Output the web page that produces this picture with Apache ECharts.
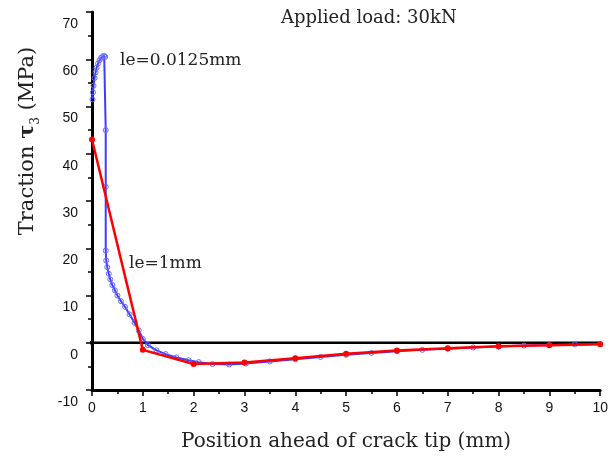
<!DOCTYPE html>
<html>
<head>
<meta charset="utf-8">
<script src="https://cdn.jsdelivr.net/npm/echarts@6/dist/echarts.min.js"></script>
<style>
  html, body { margin: 0; padding: 0; background: #fff; }
  #chart { width: 611px; height: 459px; }
</style>
</head>
<body>
<div id="chart"></div>
<script>
// le = 1mm : cohesive traction at element nodes
var redX = [0, 1, 2, 3, 4, 5, 6, 7, 8, 9, 10];
var redY = [43.0, -1.5, -4.5, -4.2, -3.3, -2.35, -1.65, -1.15, -0.75, -0.55, -0.3];

// le = 0.0125mm
var blueX = [0.01, 0.02, 0.03, 0.05, 0.07, 0.09, 0.12, 0.15, 0.18, 0.21, 0.24, 0.26,
             0.27, 0.27, 0.27, 0.28, 0.30, 0.33, 0.36, 0.40, 0.45, 0.50, 0.57, 0.65,
             0.74, 0.84, 0.92, 1.0, 1.1, 1.27, 1.45, 1.66, 1.9, 2.1, 2.37, 2.7,
             3.03, 3.5, 4.0, 4.5, 5.0, 5.5, 6.0, 6.5, 7.0, 7.5, 8.0, 8.5, 9.0, 9.5, 10];
var blueY = [51.5, 53.0, 54.4, 56.0, 57.2, 58.2, 59.1, 59.8, 60.3, 60.6, 60.7, 60.5,
             45.0, 33.0, 19.5, 17.4, 16.0, 14.6, 13.4, 12.2, 11.1, 10.0, 8.8, 7.6,
             6.0, 4.2, 2.6, 0.8, -0.5, -1.6, -2.4, -3.1, -3.7, -4.1, -4.5, -4.6,
             -4.4, -3.95, -3.5, -3.0, -2.55, -2.15, -1.8, -1.5, -1.25, -1.0, -0.8, -0.6, -0.5, -0.35, -0.25];

// crack-tip wedge drawn to the left of the origin
var wedgeX = [-1.74, 0, -1.74];
var wedgeY = [7.0, 0, -3.8];

var xTicks = { min: 0, max: 10, interval: 1 };
var yTicks = { min: -10, max: 70, interval: 10 };

function pairs(xs, ys) {
    var out = [];
    for (var i = 0; i < xs.length; i++) out.push([xs[i], ys[i]]);
    return out;
}

var serif = '"DejaVu Serif", "Liberation Serif", serif';
var myChart = echarts.init(document.getElementById('chart'));

var option = {
    animation: false,
    backgroundColor: '#fff',
    grid: { left: 92, right: 8, top: 12, bottom: 69, containLabel: false },
    title: {
        text: 'Applied load: 30kN',
        left: 276,
        top: 4,
        textStyle: { fontFamily: serif, fontSize: 18, fontWeight: 'normal', color: '#222' }
    },
    xAxis: {
        type: 'value',
        min: xTicks.min, max: xTicks.max, interval: xTicks.interval,
        name: 'Position ahead of crack tip (mm)',
        nameLocation: 'middle',
        nameGap: 42,
        nameTextStyle: { fontFamily: serif, fontSize: 20, color: '#222' },
        axisLine: { onZero: false, lineStyle: { color: '#000', width: 3 } },
        axisTick: { length: 6, lineStyle: { color: '#000', width: 1.5 } },
        minorTick: { show: true, splitNumber: 2, length: 4, lineStyle: { color: '#000', width: 1.5 } },
        splitLine: { show: false },
        axisLabel: { margin: 11, fontFamily: 'Liberation Sans', fontSize: 14, color: '#111' }
    },
    yAxis: {
        type: 'value',
        min: yTicks.min, max: yTicks.max, interval: yTicks.interval,
        axisLine: { onZero: false, lineStyle: { color: '#000', width: 3 } },
        axisTick: { length: 6, lineStyle: { color: '#000', width: 1.5 } },
        minorTick: { show: true, splitNumber: 2, length: 4, lineStyle: { color: '#000', width: 1.5 } },
        splitLine: { show: false },
        axisLabel: {
            margin: 14, fontFamily: 'Liberation Sans', fontSize: 14, color: '#111',
            verticalAlign: 'top', padding: [5, 0, 0, 0]
        }
    },
    graphic: [
        {
            type: 'text', x: 28, y: 141, rotation: Math.PI / 2,
            style: {
                text: 'Traction {t|τ}{s|3} (MPa)',
                font: '21px ' + serif,
                fill: '#222',
                align: 'center',
                verticalAlign: 'middle',
                rich: {
                    t: { fontFamily: serif, fontSize: 21, fontWeight: 'bold', lineHeight: 28, fill: '#222' },
                    s: { fontFamily: serif, fontSize: 12, verticalAlign: 'bottom', lineHeight: 12, fill: '#222' }
                }
            }
        },
        {
            type: 'text', x: 120, y: 61,
            style: { text: 'le=0.0125mm', font: '17px ' + serif, fill: '#222', verticalAlign: 'middle' }
        },
        {
            type: 'text', x: 129, y: 264,
            style: { text: 'le=1mm', font: '17px ' + serif, fill: '#222', verticalAlign: 'middle' }
        }
    ],
    series: [
        {
            name: 'zero',
            type: 'line',
            data: [[0, 0], [10, 0]],
            symbol: 'none',
            silent: true,
            z: 1,
            lineStyle: { color: '#000', width: 2.5 }
        },
        {
            name: 'wedge',
            type: 'line',
            data: pairs(wedgeX, wedgeY),
            symbol: 'none',
            clip: false,
            silent: true,
            z: 1,
            lineStyle: { color: '#000', width: 2.5 }
        },
        {
            name: 'le=0.0125mm',
            type: 'line',
            data: pairs(blueX, blueY),
            symbol: 'circle',
            symbolSize: 5,
            showSymbol: true,
            showAllSymbol: true,
            z: 3,
            lineStyle: { color: 'rgba(40,40,255,0.9)', width: 2 },
            itemStyle: { color: 'rgba(0,0,0,0)', borderColor: '#6a6aff', borderWidth: 1 }
        },
        {
            name: 'le=1mm',
            type: 'line',
            data: pairs(redX, redY),
            symbol: 'circle',
            symbolSize: 6,
            z: 4,
            lineStyle: { color: '#ff0000', width: 2.5 },
            itemStyle: { color: '#ff0000' }
        }
    ]
};

myChart.setOption(option);
window.addEventListener('resize', function () { myChart.resize(); });
</script>
</body>
</html>
